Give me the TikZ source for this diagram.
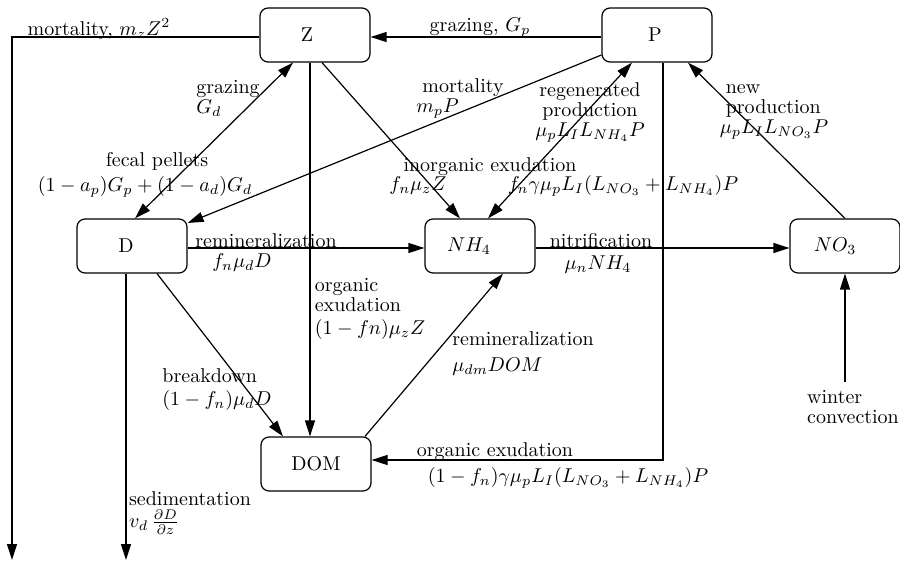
\documentclass[tikz,border=0pt]{standalone}
\usetikzlibrary{arrows.meta,calc}
\begin{document}
\begin{tikzpicture}[x=0.5pt,y=-0.5pt,
  box/.style={draw, line width=0.6pt, rounded corners=4pt, minimum width=55pt, minimum height=27pt, inner sep=0pt},
  arr/.style={-{Triangle[length=8pt,width=5pt]}, line width=0.6pt},
  arrb/.style={{Triangle[length=8pt,width=5pt]}-{Triangle[length=8pt,width=5pt]}, line width=0.6pt},
  lbl/.style={inner sep=0pt, align=left},
  lblc/.style={inner sep=0pt, align=center},
  every node/.append style={font=\fontsize{10}{10}\selectfont}]
\useasboundingbox (0,0) rectangle (900,561);

% boxes
\node[box] (Z) at (315,35) {Z\hspace*{8pt}};
\node[box] (P) at (657,35) {P\hspace*{2pt}};
\node[box] (D) at (132,246) {D\hspace*{6pt}};
\node[box] (NH) at (480,246) {$NH_4$\hspace*{11pt}};
\node[box] (NO) at (845,246) {$NO_3$\hspace*{10pt}};
\node[box] (DOM) at (316,464) {DOM};

% helper coordinates
\coordinate (mzEnd) at (12,560);
\coordinate (Zb) at ($(Z.south)+(-5,0)$);
\coordinate (Pb) at ($(P.south)+(6,0)$);
\coordinate (DOMe) at ($(DOM.east)+(0,-4)$);
\coordinate (Db) at ($(D.south)+(-6,0)$);
\coordinate (sedEnd) at (126,560);
\coordinate (wc) at (845,382);

% connectors
\draw[arr] ($(Z.west)+(0,2)$) -| (mzEnd);
\draw[arr] ($(P.west)+(0,2)$) -- ($(Z.east)+(0,2)$);
\draw[arrb] ($(D.north)+(3,0)$) -- ($(Z.south)+(-22,0)$);
\draw[arr] ($(P.west)+(0,20)$) -- ($(D.east)+(0,-23)$);
\draw[arr] ($(Z.south)+(7,0)$) -- ($(NH.north)+(-20,0)$);
\draw[arr] (Zb) -- (Zb |- DOM.north);
\draw[arrb] ($(NH.north)+(8,0)$) -- ($(P.south)+(-25,0)$);
\draw[arr] (Pb) |- (DOMe);
\draw[arr] (NO.north) -- ($(P.south)+(31,0)$);
\draw[arr] ($(D.east)+(0,2)$) -- ($(NH.west)+(0,2)$);
\draw[arr] ($(NH.east)+(0,2)$) -- ($(NO.west)+(0,2)$);
\draw[arr] ($(D.south)+(25,0)$) -- ($(DOM.north)+(-33,0)$);
\draw[arr] ($(DOM.north)+(49,0)$) -- ($(NH.south)+(23,0)$);
\draw[arr] (Db) -- (sedEnd);
\draw[arr] (wc) -- (NO.south);

% labels
\node[lbl] (l1) at (99,29) {mortality, $m_z Z^2$};
\node[lbl] (l2) at (480,28) {grazing, $G_p$};
\node[lbl] (l3) at (228,98) {grazing\\$G_d$};
\node[lbl] (l4) at (157,161) {fecal pellets};
\node[lbl] (l5) at (145,187) {$(1-a_p)G_p+(1-a_d)G_d$};
\node[lbl] (l6) at (460,98) {\hspace*{3pt}mortality\\$m_p P$};
\node[lbl] (l7) at (490,167) {inorganic exudation};
\node[lbl] (l8) at (418,186) {$f_n \mu_z Z$};
\node[lbl] (l9) at (623,186) {$f_n \gamma \mu_p L_I (L_{NO_3}+L_{NH_4})P$};
\node[lblc] (l10) at (590,112) {regenerated\\production\\$\mu_p L_I L_{NH_4} P$};
\node[lbl] (l11) at (774,112) {\hspace*{3pt}new\\\hspace*{3pt}production\\$\mu_p L_I L_{NO_3} P$};
\node[lbl] (l12) at (266,241) {remineralization};
\node[lbl] (l13) at (242,263) {$f_n \mu_d D$};
\node[lbl] (l14) at (601,241) {nitrification};
\node[lbl] (l15) at (598,265) {$\mu_n NH_4$};
\node[lbl] (l16) at (370,309) {organic\\exudation\\[1.5pt]$(1-fn)\mu_z Z$};
\node[lbl] (l17) at (523,354) {remineralization\\[3pt]$\mu_{dm} DOM$};
\node[lbl] (l18) at (217,390) {breakdown\\[1.5pt]$(1-f_n)\mu_d D$};
\node[lbl] (l19) at (495,452) {organic exudation};
\node[lbl] (l20) at (568,478) {$(1-f_n)\gamma\mu_p L_I (L_{NO_3}+L_{NH_4})P$};
\node[lbl] (l21) at (190,513) {sedimentation\\[1pt]$v_d\,\frac{\partial D}{\partial z}$};
\node[lbl] (l22) at (853,407) {winter\\convection};
\end{tikzpicture}
\end{document}
